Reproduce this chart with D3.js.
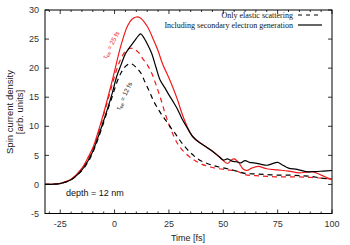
<!DOCTYPE html>
<html><head><meta charset="utf-8">
<script src="https://cdn.jsdelivr.net/npm/d3@7"></script>
<style>body{margin:0;background:#fff}svg{display:block}</style>
</head><body><svg id="c" width="350" height="245"></svg>
<script>
// ---- data ----
const xTicks = [-25, 0, 25, 50, 75, 100];
const yTicks = [-5, 0, 5, 10, 15, 20, 25, 30];
const legendLabels = ["Only elastic scattering", "Including secondary electron generation"];
const curveLabels = ["τ", "ee", " = 25 fs", " = 12 fs"];

const tRedSolid = [-32,-28,-25,-20,-15,-12,-10,-8,-5,-2,0,3,6,8,10,12,15,18,20,22,25,27,29,31,33,36,40,44,48,50,52,54,55,57,59,61,63,66,70,75,80,85,88,91,95,100];
const vRedSolid = [0,0.05,0.2,0.9,2.8,4.8,6.3,8.5,12.3,16.5,19.5,24,27.3,28.4,28.8,28.6,27.2,24.8,23,20.8,18.3,16.5,14.5,12.2,10.3,8.2,7.0,6.0,4.8,4.1,3.6,4.3,4.4,3.8,2.7,2.4,2.8,3.1,2.7,2.5,2.3,2.0,2.1,2.2,1.6,0.8];

const tBlackSolid = [-32,-28,-25,-20,-15,-12,-10,-8,-5,-3,-1,1,3,5,7,9,11,12,13,15,17,19,21,23,25,27,29,31,33,36,39,42,45,48,50,52,54,56,58,60,62,64,67,70,72,75,77,80,84,88,92,96,100];
const vBlackSolid = [0,0.05,0.15,0.8,2.5,4.2,5.7,7.7,11.0,13.3,15.8,18.6,20.6,22.5,23.6,24.6,25.6,25.9,25.5,24.2,22.6,20.2,17.9,16.7,15.4,14.2,12.9,11.3,10.0,8.2,7.2,6.5,5.7,4.8,4.2,4.4,4.0,3.9,3.7,4.1,3.8,3.7,3.5,3.3,3.5,3.8,3.4,2.8,2.6,2.2,2.2,2.3,2.4];

const tBlackDash = [-32,-25,-20,-15,-12,-10,-8,-5,-3,-1,1,3,5,7,8,10,12,14,16,18,20,22,24,26,28,30,33,36,39,42,45,48,52,56,60,65,70,75,80,85,90,95,100];
const vBlackDash = [0,0.15,0.8,2.4,4.0,5.5,7.4,10.7,13.0,15.2,17.5,19.2,20.3,20.8,20.7,20.1,19.2,17.6,16.0,14.3,13.0,11.8,10.8,9.7,8.7,7.6,6.2,5.1,4.2,3.7,3.3,3.0,2.7,2.3,1.9,1.8,1.7,1.6,1.6,1.5,1.4,1.1,0.9];

const tRedDash = [-32,-25,-20,-15,-12,-10,-8,-5,-3,-1,1,3,5,7,9,11,13,15,17,19,21,23,25,27,29,31,34,37,40,44,48,52,56,60,65,70,75,80,85,90,95,100];
const vRedDash = [0,0.2,0.9,2.7,4.6,6.1,8.2,12.0,14.6,17.3,19.8,21.7,22.9,23.4,23.3,22.7,21.6,20.6,19.2,17.2,15.0,12.5,10.3,8.5,7.0,6.0,4.9,4.1,3.5,3.0,2.7,2.5,2.3,1.7,1.5,1.4,1.3,1.3,1.3,1.2,1.1,0.9];

// ---- chart ----
const svg = d3.select("#c");
const L = 45, R = 332, T = 10, B = 213.5;
const x = d3.scaleLinear().domain([-32, 100]).range([L, R]);
const y = d3.scaleLinear().domain([-5, 30]).range([B, T]);
const sans = "Liberation Sans, Arial, sans-serif";
const serif = "Liberation Serif, Times New Roman, serif";
const RED = "#ee1c1c";

// frame
svg.append("rect").attr("x", L).attr("y", T).attr("width", R - L).attr("height", B - T)
  .attr("fill", "none").attr("stroke", "#000").attr("stroke-width", 1);

// ticks (inward, mirrored)
const minorX = d3.range(-30, 101, 5).filter(v => !xTicks.includes(v));
const tk = svg.append("g").attr("stroke", "#000").attr("stroke-width", 0.8);
xTicks.forEach(v => {
  tk.append("line").attr("x1", x(v)).attr("x2", x(v)).attr("y1", B).attr("y2", B - 4);
  tk.append("line").attr("x1", x(v)).attr("x2", x(v)).attr("y1", T).attr("y2", T + 4);
});
minorX.forEach(v => {
  tk.append("line").attr("x1", x(v)).attr("x2", x(v)).attr("y1", B).attr("y2", B - 2);
  tk.append("line").attr("x1", x(v)).attr("x2", x(v)).attr("y1", T).attr("y2", T + 2);
});
yTicks.forEach(v => {
  tk.append("line").attr("x1", L).attr("x2", L + 4).attr("y1", y(v)).attr("y2", y(v));
  tk.append("line").attr("x1", R).attr("x2", R - 4).attr("y1", y(v)).attr("y2", y(v));
});

// tick labels
svg.append("g").selectAll("text").data(xTicks).join("text")
  .attr("x", d => x(d)).attr("y", 227).attr("text-anchor", "middle")
  .attr("font-family", sans).attr("font-size", 9).attr("fill", "#333").text(d => d);
svg.append("g").selectAll("text").data(yTicks).join("text")
  .attr("x", 39).attr("y", d => y(d) + 3.2).attr("text-anchor", "end")
  .attr("font-family", sans).attr("font-size", 9).attr("fill", "#333").text(d => d);

// axis labels
svg.append("text").attr("x", 188).attr("y", 241).attr("text-anchor", "middle")
  .attr("font-family", sans).attr("font-size", 9).attr("fill", "#222").text("Time [fs]");
const yl = svg.append("text").attr("transform", "translate(13,112) rotate(-90)")
  .attr("text-anchor", "middle").attr("font-family", sans).attr("font-size", 9.5).attr("fill", "#222");
yl.append("tspan").attr("x", 0).attr("y", 0).text("Spin current density");
yl.append("tspan").attr("x", 0).attr("y", 10).text("[arb. units]");

// curves
const line = d3.line().x(d => x(d[0])).y(d => y(d[1])).curve(d3.curveCatmullRom.alpha(0.5));
const series = [
  {t: tRedDash, v: vRedDash, c: RED, dash: "5,4"},
  {t: tBlackDash, v: vBlackDash, c: "#000", dash: "5,4"},
  {t: tRedSolid, v: vRedSolid, c: RED, dash: null},
  {t: tBlackSolid, v: vBlackSolid, c: "#000", dash: null}
];
const plot = svg.append("g");
series.forEach(s => {
  plot.append("path").datum(d3.zip(s.t, s.v)).attr("d", line)
    .attr("fill", "none").attr("stroke", s.c).attr("stroke-width", 1.2)
    .attr("stroke-dasharray", s.dash);
});

// legend
const lg = svg.append("g");
legendLabels.forEach((lab, i) => {
  const yy = 15 + i * 10;
  lg.append("text").attr("x", 293).attr("y", yy + 3).attr("text-anchor", "end")
    .attr("font-family", serif).attr("font-size", 8).attr("fill", "#111").text(lab);
  lg.append("line").attr("x1", 298).attr("x2", 322).attr("y1", yy).attr("y2", yy)
    .attr("stroke", "#000").attr("stroke-width", 1.2)
    .attr("stroke-dasharray", i === 0 ? "4,4" : null);
});

// curve labels
function tauLabel(cx, cy, ang, rest, color) {
  const t = svg.append("text").attr("transform", `translate(${cx},${cy}) rotate(${ang})`)
    .attr("text-anchor", "middle").attr("font-family", sans).attr("font-size", 6.5).attr("fill", color);
  t.append("tspan").text(curveLabels[0]);
  t.append("tspan").attr("font-size", 5).attr("dy", 1.5).text(curveLabels[1]);
  t.append("tspan").attr("dy", -1.5).text(rest);
}
tauLabel(113, 46, -63, curveLabels[2], RED);
tauLabel(126, 97, -65, curveLabels[3], "#222");

// depth label
svg.append("text").attr("x", 66).attr("y", 196).attr("font-family", sans).attr("font-size", 9)
  .attr("fill", "#111").text("depth = 12 nm");
</script></body></html>
